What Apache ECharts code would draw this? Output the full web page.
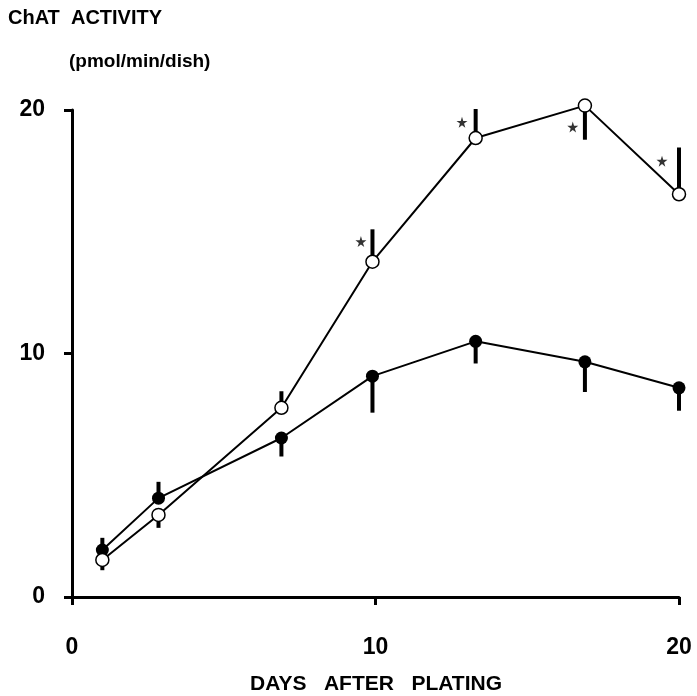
<!DOCTYPE html>
<html>
<head>
<meta charset="utf-8">
<script src="https://cdn.jsdelivr.net/npm/echarts@6/dist/echarts.min.js"></script>
<style>
  html, body { margin: 0; padding: 0; background: #fff; }
  #chart { width: 697px; height: 696px; }
</style>
</head>
<body>
<div id="chart"></div>
<script>
// days after plating
const days = [1, 2.85, 6.9, 9.9, 13.3, 16.9, 20]
// filled circles
const controlValues = [1.93, 4.06, 6.53, 9.07, 10.5, 9.66, 8.59]
const controlErrEnd = [2.43, 4.73, 5.77, 7.57, 9.59, 8.42, 7.65]
// open circles
const treatedValues = [1.52, 3.37, 7.77, 13.77, 18.85, 20.18, 16.54]
const treatedErrEnd = [1.1, 2.84, 8.45, 15.1, 20.04, 18.78, 18.46]
// significance stars
const starDays = [9.52, 12.85, 16.5, 19.44]
const starValues = [14.6, 19.5, 19.3, 17.9]
const xTicks = [0, 10, 20]
const yTicks = [0, 10, 20]

const font = '"Liberation Sans", Arial, sans-serif'
const starPath = 'path://M50,0 L61,35 L98,35 L68,57 L79,91 L50,70 L21,91 L32,57 L2,35 L39,35 Z'

const pairs = (xs, ys) => xs.map((x, i) => [x, ys[i]])
const errData = (vals, ends) => days.map((d, i) => [d, vals[i], ends[i]])

// vertical one-sided error bar
function renderErr(params, api) {
  const p0 = api.coord([api.value(0), api.value(1)])
  const p1 = api.coord([api.value(0), api.value(2)])
  return {
    type: 'line',
    shape: { x1: p0[0], y1: p0[1], x2: p1[0], y2: p1[1] },
    style: { stroke: '#000', lineWidth: 4 }
  }
}

const axisCommon = {
  type: 'value',
  min: 0,
  max: 20,
  interval: 10,
  splitLine: { show: false },
  axisLine: { show: true, lineStyle: { color: '#000', width: 3 } },
  axisTick: { show: true, length: 8, lineStyle: { color: '#000', width: 3 } },
  axisLabel: {
    color: '#000',
    fontFamily: font,
    fontWeight: 'bold',
    fontSize: 23
  }
}

const chart = echarts.init(document.getElementById('chart'))
chart.setOption({
  animation: false,
  grid: { left: 72, right: 18, top: 110, bottom: 99 },
  xAxis: {
    ...axisCommon,
    axisLabel: {
      ...axisCommon.axisLabel,
      margin: 39,
      formatter: v => (xTicks.includes(v) ? v : '')
    }
  },
  yAxis: {
    ...axisCommon,
    axisLabel: {
      ...axisCommon.axisLabel,
      margin: 27,
      formatter: v => (yTicks.includes(v) ? v : '')
    }
  },
  graphic: [
    {
      type: 'text',
      left: 8,
      top: 8,
      style: { text: 'ChAT  ACTIVITY', font: 'bold 20px ' + font, fill: '#000' }
    },
    {
      type: 'text',
      left: 69,
      top: 52,
      style: { text: '(pmol/min/dish)', font: 'bold 19px ' + font, fill: '#000' }
    },
    {
      type: 'text',
      left: 250,
      top: 674,
      style: { text: 'DAYS   AFTER   PLATING', font: 'bold 21px ' + font, fill: '#000' }
    }
  ],
  series: [
    {
      type: 'custom',
      renderItem: renderErr,
      data: errData(controlValues, controlErrEnd),
      clip: false,
      z: 1
    },
    {
      type: 'custom',
      renderItem: renderErr,
      data: errData(treatedValues, treatedErrEnd),
      clip: false,
      z: 1
    },
    {
      type: 'line',
      data: pairs(days, controlValues),
      symbol: 'circle',
      symbolSize: 13,
      clip: false,
      itemStyle: { color: '#000' },
      lineStyle: { color: '#000', width: 2 },
      z: 3
    },
    {
      type: 'line',
      data: pairs(days, treatedValues),
      symbol: 'circle',
      symbolSize: 13,
      clip: false,
      itemStyle: { color: '#fff', borderColor: '#000', borderWidth: 1.5 },
      lineStyle: { color: '#000', width: 2 },
      z: 4
    },
    {
      type: 'scatter',
      data: pairs(starDays, starValues),
      symbol: starPath,
      symbolSize: 11,
      itemStyle: { color: '#000' },
      z: 5
    }
  ]
})
</script>
</body>
</html>
